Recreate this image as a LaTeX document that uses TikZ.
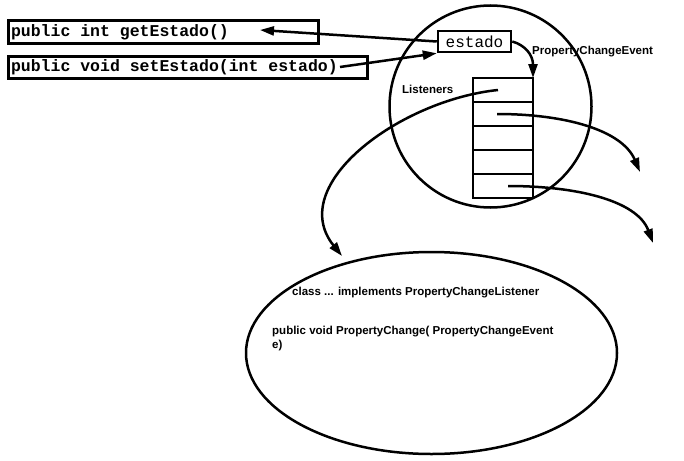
\documentclass[tikz,border=0pt]{standalone}
\usepackage{fontspec}
\setmainfont{Liberation Sans}
\setmonofont{Liberation Mono}
\usetikzlibrary{arrows.meta,positioning,shapes.geometric}
\newcommand{\tsp}{\hspace{0.6em}}

\begin{document}
\begin{tikzpicture}[
  x=1pt, y=-1pt,
  font=\fontsize{11.5}{14}\selectfont\bfseries,
  >={Triangle[length=14pt,width=9pt]},
  sigbox/.style={rectangle, draw, line width=3pt, anchor=north west,
    font=\fontsize{16.5}{18}\selectfont\ttfamily\bfseries,
    minimum height=22pt, inner xsep=3pt, align=left},
  varbox/.style={rectangle, draw, line width=2.5pt,
    font=\fontsize{16}{18}\selectfont\ttfamily\mdseries,
    minimum width=73pt, minimum height=21pt},
  cell/.style={rectangle, draw, line width=2.5pt, outer sep=0pt,
    minimum width=60pt, minimum height=24pt},
  arr/.style={->, line width=2.5pt},
  lbl/.style={anchor=west, inner sep=0pt},
]
\useasboundingbox (0,0) rectangle (684,460);

% Bean and listener object
\node[circle, draw, line width=2.5pt, minimum size=202pt] (bean) at (490.5,106.5) {};
\node[ellipse, draw, line width=2.5pt,
      minimum width=371pt, minimum height=202pt] (lsnr) at (431.5,353) {};

% Accessor methods
\node[sigbox, text width=304pt] (getbox) at (6.5,19.5) {public\tsp int\tsp getEstado()};
\node[sigbox, text width=353pt] (setbox) at (6.5,54.5)
  {public\tsp void\tsp setEstado(int\tsp estado)};

% Property
\node[varbox] (estado) at (474.5,41.5) {estado};

% Listener list
\node[cell] (cell1) at (503,90) {};
\node[cell, below=0pt of cell1] (cell2) {};
\node[cell, below=0pt of cell2] (cell3) {};
\node[cell, below=0pt of cell3] (cell4) {};
\node[cell, below=0pt of cell4] (cell5) {};

% Labels
\node[lbl] (lsttxt) at (402,89) {Listeners};
\node[lbl] (evttxt) at (532,52) {PropertyChangeEvent};
\node[lbl] (clstxt) at (292,293) {class ... implements PropertyChangeListener};
\node[lbl, anchor=north west, align=left] (mthtxt) at (272,326)
  {public void PropertyChange( PropertyChangeEvent\\e)};

% Free ends
\coordinate (getin)  at (260,30);
\coordinate (setout) at (340,67);
\coordinate (hit1)   at (342,256);
\coordinate (out1)   at (640,172);
\coordinate (out2)   at (653,243);

% Connectors
\draw[arr] (estado.west) -- (getin);
\draw[arr] (setout) -- (estado.south west);
\draw[arr] (estado.east) .. controls (525,45) and (533,55) .. (cell1.north east);
\draw[arr] ([xshift=-5pt]cell1.center) .. controls (400,100) and (285,185) .. (hit1);
\draw[arr] ([xshift=-6pt]cell2.center) .. controls (565,114) and (622,130) .. (out1);
\draw[arr] ([xshift=5pt]cell5.center) .. controls (575,186) and (637,200) .. (out2);
\end{tikzpicture}
\end{document}
